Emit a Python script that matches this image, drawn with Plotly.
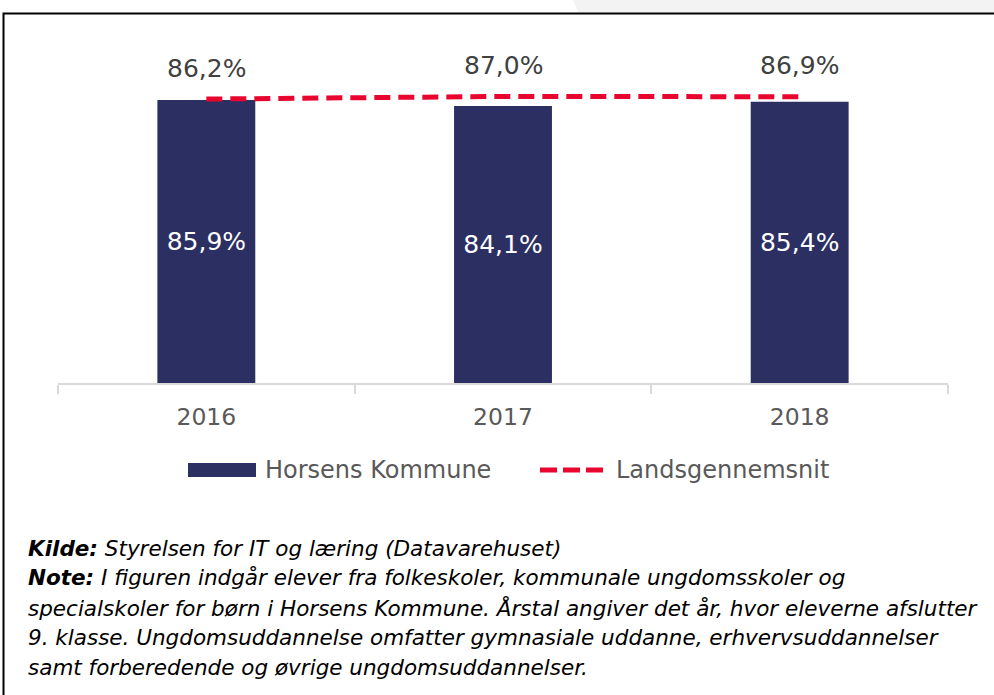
import plotly.graph_objects as go

years = ["2016", "2017", "2018"]
horsens = [85.9, 84.1, 85.4]
lands = [86.2, 87.0, 86.9]
series_names = ["Horsens Kommune", "Landsgennemsnit"]
note_lines = [
    "<b>Kilde:</b> Styrelsen for IT og læring (Datavarehuset)",
    "<b>Note:</b> I figuren indgår elever fra folkeskoler, kommunale ungdomsskoler og",
    "specialskoler for børn i Horsens Kommune. Årstal angiver det år, hvor eleverne afslutter",
    "9. klasse. Ungdomsuddannelse omfatter gymnasiale uddanne, erhvervsuddannelser",
    "samt forberedende og øvrige ungdomsuddannelser.",
]

W, H = 994, 695
BAR = "#2C2F62"
RED = "#E8062E"
FONT = "DejaVu Sans"


def px(x):
    return x / W


def py(y):
    return 1 - y / H


fig = go.Figure()
fig.add_trace(go.Bar(
    x=years, y=horsens, name=series_names[0], marker=dict(color=BAR, line=dict(width=0)),
    texttemplate="%{y:.1f}%", textposition="inside", insidetextanchor="middle",
    textfont=dict(color="white", size=25, family=FONT), showlegend=False,
))
fig.add_trace(go.Scatter(
    x=years, y=lands, name=series_names[1], mode="lines",
    line=dict(color=RED, width=5, dash="16px,8px"), showlegend=False,
))

annotations = []
for i, v in enumerate(lands):
    annotations.append(dict(
        x=i, y=v, xref="x", yref="y", yshift=31, showarrow=False,
        text=f"{v:.1f}%".replace(".", ","), font=dict(size=25, color="#404040", family=FONT),
    ))

# custom legend
annotations.append(dict(x=px(263), y=py(470), xref="paper", yref="paper", xanchor="left", yanchor="middle",
                        showarrow=False, text=series_names[0], font=dict(size=24, color="#595959", family=FONT)))
annotations.append(dict(x=px(614), y=py(470), xref="paper", yref="paper", xanchor="left", yanchor="middle",
                        showarrow=False, text=series_names[1], font=dict(size=24, color="#595959", family=FONT)))

for i, line in enumerate(note_lines):
    annotations.append(dict(
        x=px(26), y=py(548 + i * 29.8), xref="paper", yref="paper", xanchor="left", yanchor="middle",
        showarrow=False, text=f"<i>{line}</i>", font=dict(size=21.5, color="#000000", family=FONT),
    ))

shapes = [
    dict(type="path", xref="paper", yref="paper",
         path=f"M {px(572)} {py(-2)} L {px(1000)} {py(-2)} L {px(1000)} {py(12)} L {px(578)} {py(12)} Z",
         fillcolor="#F3F3F3", line=dict(width=0), layer="below"),
    dict(type="rect", xref="paper", yref="paper", x0=px(3.5), x1=px(1010), y0=py(13.5), y1=py(710),
         fillcolor="rgba(0,0,0,0)", line=dict(color="#000000", width=2)),
    dict(type="rect", xref="paper", yref="paper", x0=px(188), x1=px(256), y0=py(463), y1=py(477),
         fillcolor=BAR, line=dict(width=0)),
    dict(type="line", xref="paper", yref="paper", x0=px(540), x1=px(605), y0=py(470), y1=py(470),
         line=dict(color=RED, width=5, dash="17px,6px")),
]

fig.update_layout(
    width=W, height=H, margin=dict(l=0, r=0, t=0, b=0, autoexpand=False),
    paper_bgcolor="white", plot_bgcolor="white",
    separators=",.", bargap=0.67, showlegend=False,
    font=dict(family=FONT, color="#595959"),
    annotations=annotations, shapes=shapes,
    xaxis=dict(type="category", range=[-0.5, 2.5], autorange=False,
               domain=[px(58), px(948)], showline=True, linecolor="#D9D9D9", linewidth=1.5,
               ticks="outside", tickson="boundaries", ticklen=9, tickcolor="#D9D9D9", tickwidth=1.5,
               tickangle=0, automargin=False, ticklabelstandoff=12,
               tickfont=dict(size=23.5, color="#595959", family=FONT), showgrid=False),
    yaxis=dict(domain=[py(383), py(53.6)], range=[0, 100], autorange=False,
               visible=False, showgrid=False, automargin=False),
)

fig.write_html("out.html", config={"displayModeBar": False},
               post_script="document.body.style.margin='0';document.body.style.overflow='hidden';")
